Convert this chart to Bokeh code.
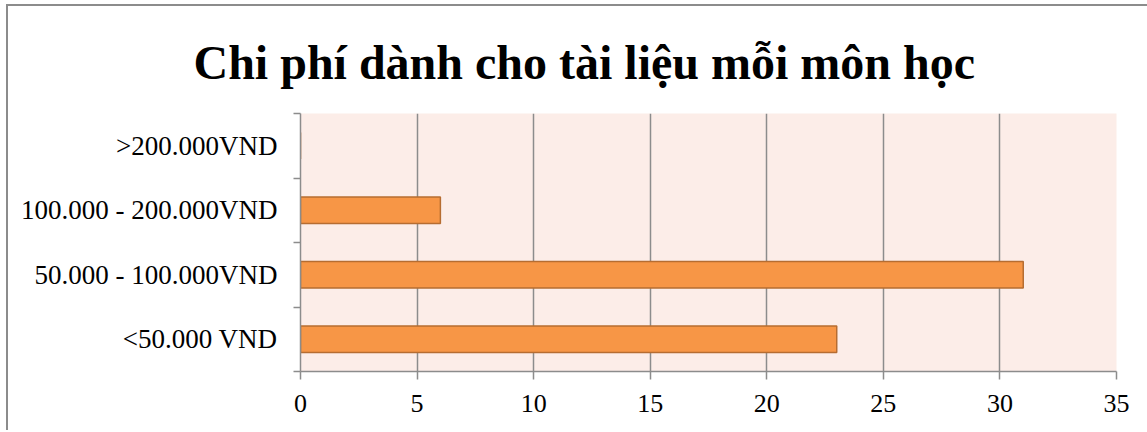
from bokeh.plotting import figure
from bokeh.models import Range1d, LinearAxis, FixedTicker, Title
from bokeh.embed import file_html
from bokeh.resources import INLINE

categories = ["<50.000 VND", "50.000 - 100.000VND", "100.000 - 200.000VND", ">200.000VND"]
values = [23, 31, 6, 0]
x_ticks = [0, 5, 10, 15, 20, 25, 30, 35]
title_text = "Chi phí dành cho tài liệu mỗi môn học"

FONT = "Liberation Serif"
GRAY = "#8c8c8c"

n = len(categories)
centers = [i + 0.5 for i in range(n)]
bounds = list(range(n + 1))

p = figure(width=1141, height=426,
           y_range=Range1d(0, n), x_range=Range1d(0, 35),
           output_backend="svg", toolbar_location=None,
           min_border_left=292, min_border_right=33, min_border_top=107, min_border_bottom=61,
           background_fill_color="#fcede8", border_fill_color="white",
           outline_line_color=None)

p.styles = {"margin-left": "6px", "margin-top": "4px",
            "border-left": "2px solid #8c8c8c", "border-top": "2px solid #8c8c8c"}

p.hbar(y=centers, right=values, left=0, height=0.41,
       fill_color="#f79646", line_color="#b66d31", line_width=1.5)

# x axis
xa = p.xaxis[0]
xa.ticker = FixedTicker(ticks=x_ticks)
xa.major_tick_out = 8
xa.major_tick_in = 0
xa.minor_tick_out = 0
xa.minor_tick_in = 0
xa.axis_line_color = GRAY
xa.axis_line_width = 1.5
xa.major_tick_line_color = GRAY
xa.major_tick_line_width = 1.5
xa.major_label_text_font = FONT
xa.major_label_text_font_size = "26px"
xa.major_label_text_color = "black"
xa.major_label_standoff = 15

p.xgrid.ticker = FixedTicker(ticks=x_ticks)
p.xgrid.grid_line_color = GRAY
p.xgrid.grid_line_width = 1.5
p.ygrid.grid_line_color = None

# category label axis
ya = p.yaxis[0]
ya.ticker = FixedTicker(ticks=centers)
ya.major_label_overrides = {c: lab for c, lab in zip(centers, categories)}
ya.axis_line_color = None
ya.major_tick_line_color = None
ya.major_tick_out = 0
ya.major_tick_in = 0
ya.minor_tick_out = 0
ya.minor_tick_in = 0
ya.major_label_standoff = 16
ya.major_label_text_font = FONT
ya.major_label_text_font_size = "27px"
ya.major_label_text_color = "black"

# boundary tick axis
tick_axis = LinearAxis(ticker=FixedTicker(ticks=bounds),
                       major_label_overrides={b: "" for b in bounds},
                       major_tick_out=7, major_tick_in=0, minor_tick_out=0, minor_tick_in=0,
                       major_label_standoff=0, axis_line_color=GRAY, axis_line_width=1.5,
                       major_tick_line_color=GRAY, major_tick_line_width=1.5,
                       major_label_text_font_size="1px")
p.left = [tick_axis, ya]

p.title = Title(text=title_text, align="left", offset=-107, standoff=50, text_font=FONT,
                text_font_style="bold", text_font_size="48px", text_color="black")

open("out.html", "w").write(file_html(p, INLINE))
